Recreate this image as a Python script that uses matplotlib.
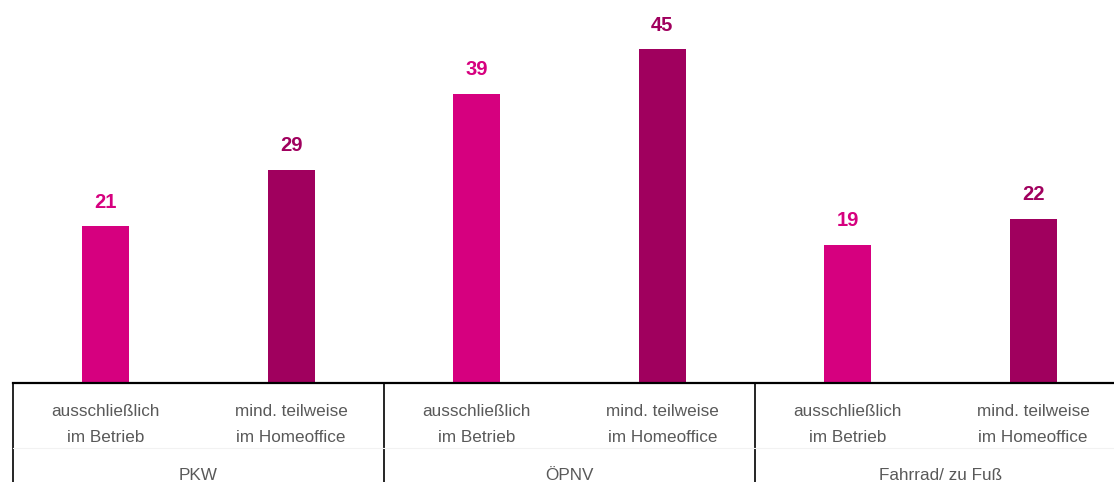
import matplotlib.pyplot as plt
from matplotlib.lines import Line2D

# data (bar heights, labels rounded)
groups = ["PKW", "ÖPNV", "Fahrrad/ zu Fuß"]
categories = ["ausschließlich", "im Betrieb"], ["mind. teilweise", "im Homeoffice"]
values_betrieb = [21.1, 39.0, 18.6]
values_homeoffice = [28.7, 45.0, 22.1]

col_betrieb = "#D6007F"
col_home = "#A0005E"
gray = "#595959"

fig = plt.figure(figsize=(11.14, 4.82), dpi=100)
ax = fig.add_axes([13 / 1114, 99 / 482, 1113 / 1114, 383 / 482])

n = len(groups)
x_b = [2 * i for i in range(n)]
x_h = [2 * i + 1 for i in range(n)]
bw = 47 / 185.5

ax.bar(x_b, values_betrieb, width=bw, color=col_betrieb)
ax.bar(x_h, values_homeoffice, width=bw, color=col_home)

ax.set_xlim(-0.5, 2 * n - 0.5)
ax.set_ylim(0, 383 / 7.42)

# value labels
for xs, vals, c in [(x_b, values_betrieb, col_betrieb), (x_h, values_homeoffice, col_home)]:
    for x, v in zip(xs, vals):
        ax.annotate(f"{round(v)}", (x, v), xytext=(0, 10.5), textcoords="offset points",
                    ha="center", va="bottom", fontsize=14.5, fontweight="bold", color=c,
                    family=["Liberation Sans Narrow", "Liberation Sans", "DejaVu Sans"])

for s in ["top", "right", "left"]:
    ax.spines[s].set_visible(False)
ax.spines["bottom"].set_linewidth(1.6)
ax.spines["bottom"].set_color("black")
ax.set_xticks([])
ax.set_yticks([])

tr = ax.get_xaxis_transform()
h = 383.0
# category labels
for i in range(n):
    for j, (l1, l2) in enumerate(categories):
        x = 2 * i + j
        ax.text(x, -29 / h, l1, transform=tr, ha="center", va="center",
                fontsize=12.3, color=gray, family=["Liberation Sans", "DejaVu Sans"])
        ax.text(x, -54 / h, l2, transform=tr, ha="center", va="center",
                fontsize=12.3, color=gray, family=["Liberation Sans", "DejaVu Sans"])
    ax.text(2 * i + 0.5, -92 / h, groups[i], transform=tr, ha="center", va="center",
            fontsize=12.3, color=gray, family=["Liberation Sans", "DejaVu Sans"])

# group dividers
for k in range(n + 1):
    xd = 2 * k - 0.5
    ax.add_line(Line2D([xd, xd], [0, -100 / h], transform=tr, color="black",
                       lw=1.2, clip_on=False))

# faint separator between category and group rows
ax.add_line(Line2D([-0.5, 2 * n - 0.5], [-65 / h, -65 / h], transform=tr,
                   color="#f2f2f2", lw=0.8, clip_on=False))

fig.savefig("out.png", dpi=100)
